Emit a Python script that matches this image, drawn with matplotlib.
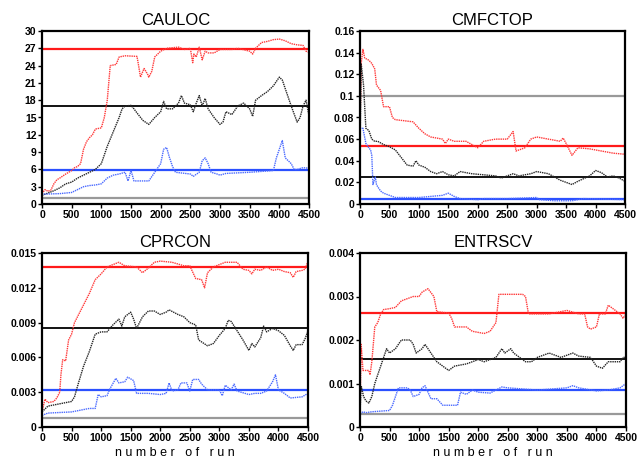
import matplotlib
matplotlib.use('Agg')
import matplotlib.pyplot as plt
import numpy as np

# ---- CAULOC ----
cauloc_ref = {'gray': 1.0, 'red': 26.8, 'black': 17.0, 'blue': 5.9}
cauloc_red_x = [0, 50, 100, 150, 200, 250, 300, 400, 450, 500, 550, 600, 650, 700, 750, 800, 850, 900, 1000, 1050,
                1100, 1150, 1250, 1300, 1400, 1600, 1620, 1660, 1720, 1780, 1800, 1850, 1900, 2000, 2100, 2300, 2400,
                2500, 2540, 2560, 2600, 2650, 2700, 2750, 2800, 2900, 3000, 3200, 3300, 3500, 3550, 3600, 3700, 3800,
                3900, 4000, 4100, 4200, 4300, 4400, 4450, 4500]
cauloc_red_y = [1.8, 2.5, 2.2, 2.4, 3.5, 4.2, 4.5, 5.2, 5.5, 5.8, 6.3, 6.5, 7.0, 9.5, 10.8, 11.5, 12.0, 13.0, 13.2, 15,
                18, 24, 24.2, 25.5, 25.7, 25.6, 24.5, 22, 23.5, 22.5, 22, 23, 25.5, 26.5, 27, 27.2, 26.8,
                27, 24.5, 26, 25.5, 27.2, 25, 26.5, 26.2, 26.2, 26.8, 26.8, 27, 26.5, 26, 27, 28, 28.2,
                28.5, 28.6, 28.3, 27.8, 27.6, 27.5, 26.5, 26.3]
cauloc_black_x = [0, 200, 300, 400, 500, 600, 700, 800, 900, 1000, 1050, 1100, 1200, 1300, 1350, 1400, 1500, 1550,
                  1600, 1700, 1800, 1900, 2000, 2050, 2100, 2200, 2300, 2350, 2400, 2500, 2550, 2600, 2650, 2700,
                  2750, 2800, 2900, 3000, 3050, 3100, 3200, 3300, 3400, 3500, 3550, 3600, 3700, 3800, 3900, 4000,
                  4050, 4100, 4200, 4300, 4350, 4400, 4450, 4500]
cauloc_black_y = [1.5, 2.3, 2.8, 3.5, 3.8, 4.5, 5, 5.5, 6, 7, 8.5, 10, 12.5, 15, 16.5, 17, 17.1, 16.5,
                  15.8, 14.5, 13.8, 15, 16, 17.8, 16.5, 16.5, 17.5, 18.8, 17.5, 17.2, 16, 17.5, 18.8, 17,
                  18.3, 16.5, 15, 13.8, 14.2, 16, 15.5, 17, 17.5, 16.5, 15.2, 18, 18.8, 19.5, 20.5, 22,
                  21.5, 20, 17, 14.2, 15, 17, 18, 15.3]
cauloc_blue_x = [0, 300, 500, 600, 700, 800, 900, 1000, 1100, 1200, 1300, 1400, 1450, 1500, 1550, 1800, 1900, 2000,
                 2050, 2100, 2150, 2200, 2250, 2500, 2550, 2650, 2700, 2750, 2800, 2850, 2950, 3000, 3100, 3500,
                 3900, 3950, 4000, 4050, 4100, 4200, 4250, 4300, 4400, 4500]
cauloc_blue_y = [1.7, 1.8, 2, 2.5, 3, 3.2, 3.3, 3.5, 4.5, 5, 5.2, 5.5, 4, 5.8, 4, 4, 5.5, 7,
                 9.5, 9.8, 8, 6.5, 5.5, 5.2, 4.8, 5.5, 7.5, 8, 7, 5.5, 5.2, 5.0, 5.3, 5.5,
                 5.8, 8, 9.5, 11, 8, 7, 6, 6, 6.3, 6.2]

# ---- CMFCTOP ----
cmfctop_ref = {'gray': 0.1, 'red': 0.0535, 'black': 0.025, 'blue': 0.005}
cmfctop_red_x = [0, 20, 50, 80, 150, 200, 250, 280, 350, 400, 450, 500, 550, 600, 900, 1000, 1100, 1200, 1400, 1450,
                 1500, 1600, 1800, 1900, 2000, 2100, 2300, 2500, 2600, 2650, 2800, 2900, 3000, 3200, 3400, 3450,
                 3500, 3600, 3700, 3900, 4000, 4200, 4300, 4500]
cmfctop_red_y = [0.07, 0.13, 0.143, 0.135, 0.133, 0.13, 0.125, 0.11, 0.105, 0.09, 0.09, 0.09, 0.08, 0.078, 0.076,
                 0.07, 0.065, 0.062, 0.06, 0.056, 0.06, 0.058, 0.058, 0.055, 0.052, 0.058, 0.06, 0.06, 0.067,
                 0.049, 0.052, 0.06, 0.062, 0.06, 0.058, 0.061, 0.056, 0.045, 0.052, 0.051, 0.05, 0.048, 0.047,
                 0.046]
cmfctop_black_x = [0, 20, 60, 100, 150, 200, 250, 300, 400, 500, 600, 700, 800, 900, 950, 1000, 1100, 1200, 1300,
                   1400, 1500, 1600, 1700, 1900, 2100, 2300, 2400, 2600, 2700, 2900, 3000, 3200, 3400, 3500, 3600,
                   3700, 3900, 4000, 4100, 4200, 4300, 4400, 4500]
cmfctop_black_y = [0.05, 0.13, 0.11, 0.07, 0.068, 0.06, 0.058, 0.058, 0.055, 0.053, 0.05, 0.043, 0.036, 0.035, 0.04,
                   0.036, 0.034, 0.03, 0.028, 0.03, 0.027, 0.026, 0.03, 0.028, 0.027, 0.026, 0.024, 0.028, 0.026,
                   0.028, 0.03, 0.028, 0.022, 0.02, 0.018, 0.021, 0.026, 0.031, 0.029, 0.025, 0.026, 0.024, 0.021]
cmfctop_blue_x = [0, 50, 100, 150, 180, 200, 220, 260, 280, 300, 350, 400, 500, 600, 1000, 1400, 1500, 1600, 1700,
                  2000, 2100, 2500, 3000, 3050, 3300, 3600, 3800, 4500]
cmfctop_blue_y = [0.07, 0.07, 0.056, 0.052, 0.05, 0.045, 0.018, 0.025, 0.018, 0.016, 0.012, 0.01, 0.008, 0.006,
                  0.006, 0.008, 0.01, 0.007, 0.005, 0.004, 0.005, 0.005, 0.006, 0.004, 0.003, 0.003, 0.005, 0.004]

# ---- CPRCON ----
cprcon_ref = {'gray': 0.0008, 'red': 0.0138, 'black': 0.0085, 'blue': 0.0032}
cprcon_red_x = [0, 50, 100, 200, 250, 300, 320, 350, 400, 450, 500, 550, 600, 700, 800, 900, 1000, 1100, 1200, 1300,
                1400, 1600, 1700, 1800, 1900, 2000, 2200, 2400, 2500, 2600, 2700, 2750, 2800, 2900, 3000, 3100,
                3300, 3400, 3500, 3550, 3600, 3700, 3800, 3900, 4000, 4100, 4200, 4250, 4300, 4400, 4450, 4500]
cprcon_red_y = [0.0013, 0.0024, 0.0021, 0.0022, 0.0025, 0.003, 0.0045, 0.0058, 0.0057, 0.0075, 0.008, 0.009, 0.0095,
                0.0105, 0.0115, 0.0127, 0.0132, 0.0138, 0.014, 0.0142, 0.0139, 0.0138, 0.0133, 0.0137, 0.0142,
                0.0143, 0.0142, 0.0139, 0.0139, 0.0128, 0.0127, 0.012, 0.0133, 0.0138, 0.014, 0.0142, 0.0142,
                0.0136, 0.0135, 0.0132, 0.0136, 0.0135, 0.0138, 0.0135, 0.0136, 0.0134, 0.0133, 0.0129, 0.0134,
                0.0135, 0.0136, 0.0143]
cprcon_black_x = [0, 100, 300, 500, 550, 600, 700, 800, 900, 1000, 1100, 1200, 1300, 1350, 1400, 1500, 1550, 1600,
                  1700, 1800, 1900, 2000, 2100, 2150, 2300, 2400, 2500, 2600, 2650, 2800, 2900, 3000, 3100, 3150,
                  3200, 3300, 3400, 3500, 3550, 3600, 3700, 3750, 3800, 3900, 4000, 4100, 4200, 4250, 4300, 4400,
                  4450, 4500]
cprcon_black_y = [0.0013, 0.0018, 0.002, 0.0022, 0.0026, 0.0035, 0.0052, 0.0065, 0.008, 0.0082, 0.0082, 0.0088,
                  0.0093, 0.0087, 0.0095, 0.0099, 0.0093, 0.0085, 0.0095, 0.01, 0.01, 0.0097, 0.0099, 0.0101,
                  0.0097, 0.0095, 0.009, 0.0088, 0.0075, 0.007, 0.0072, 0.0079, 0.0085, 0.0092, 0.0091, 0.0083,
                  0.0075, 0.0066, 0.0072, 0.0069, 0.0077, 0.0087, 0.0082, 0.0085, 0.0083, 0.0079, 0.007, 0.0066,
                  0.0071, 0.0071, 0.0076, 0.0083]
cprcon_blue_x = [0, 100, 500, 700, 800, 900, 950, 1000, 1100, 1150, 1250, 1300, 1400, 1450, 1550, 1600, 1800, 2000,
                 2100, 2150, 2200, 2300, 2350, 2450, 2500, 2550, 2650, 2700, 2800, 3000, 3050, 3100, 3200, 3250,
                 3300, 3500, 3600, 3700, 3800, 3900, 3950, 4000, 4100, 4200, 4400, 4500]
cprcon_blue_y = [0.0010, 0.0012, 0.0013, 0.0015, 0.0016, 0.0016, 0.0028, 0.0026, 0.0027, 0.0033, 0.0042, 0.0038,
                 0.0039, 0.0043, 0.0040, 0.0029, 0.0029, 0.0028, 0.0029, 0.0038, 0.0031, 0.0032, 0.0038, 0.0038,
                 0.0031, 0.0041, 0.0041, 0.0037, 0.0032, 0.0032, 0.0027, 0.0036, 0.0032, 0.0037, 0.0031, 0.0028,
                 0.0029, 0.0029, 0.0031, 0.0039, 0.0045, 0.0032, 0.0029, 0.0025, 0.0026, 0.0029]

# ---- ENTRSCV ----
entrscv_ref = {'gray': 0.0003, 'red': 0.00262, 'black': 0.00157, 'blue': 0.00085}
entrscv_red_x = [0, 20, 50, 150, 170, 200, 250, 300, 350, 400, 500, 600, 700, 900, 1000, 1050, 1150, 1250, 1300,
                 1500, 1550, 1600, 1800, 1900, 2100, 2200, 2300, 2350, 2500, 2750, 2800, 2850, 3000, 3200, 3500,
                 3700, 3800, 3850, 3900, 4000, 4050, 4150, 4200, 4300, 4400, 4450, 4500]
entrscv_red_y = [0.0003, 0.0019, 0.0013, 0.0013, 0.0012, 0.0015, 0.0023, 0.0024, 0.0026, 0.0027, 0.00272, 0.00275,
                 0.0029, 0.003, 0.003, 0.0031, 0.00318, 0.003, 0.00265, 0.00262, 0.0025, 0.0023, 0.0023, 0.0022,
                 0.00215, 0.0022, 0.0024, 0.00305, 0.00305, 0.00305, 0.003, 0.0026, 0.0026, 0.0026, 0.00268,
                 0.0026, 0.0026, 0.0023, 0.00225, 0.0023, 0.0026, 0.0026, 0.0028, 0.0027, 0.0026, 0.0025, 0.0026]
entrscv_black_x = [0, 20, 60, 100, 150, 200, 250, 300, 400, 450, 500, 600, 700, 800, 850, 900, 950, 1050, 1100,
                   1200, 1300, 1400, 1500, 1600, 1800, 1900, 2000, 2100, 2300, 2400, 2450, 2550, 2600, 2700, 2800,
                   2900, 3000, 3200, 3400, 3600, 3700, 3900, 4000, 4100, 4200, 4300, 4400, 4450, 4500]
entrscv_black_y = [0.0003, 0.00095, 0.0007, 0.0006, 0.00055, 0.0007, 0.001, 0.0012, 0.0016, 0.0018, 0.0017, 0.0018,
                   0.002, 0.002, 0.002, 0.0019, 0.0017, 0.0018, 0.0019, 0.0017, 0.0015, 0.0014, 0.0013, 0.0014,
                   0.00145, 0.0015, 0.00155, 0.0015, 0.0016, 0.0018, 0.0017, 0.0018, 0.0017, 0.0016, 0.0015, 0.0015,
                   0.0016, 0.0017, 0.0016, 0.0017, 0.00163, 0.0016, 0.0014, 0.00135, 0.0015, 0.0015, 0.0015,
                   0.0016, 0.0016]
entrscv_blue_x = [0, 50, 100, 200, 500, 550, 650, 800, 850, 900, 1000, 1050, 1100, 1200, 1300, 1400, 1500, 1650,
                  1700, 1800, 1900, 2000, 2200, 2400, 2500, 2700, 3000, 3500, 3600, 3700, 4000, 4200, 4400, 4500]
entrscv_blue_y = [0.0003, 0.00035, 0.00033, 0.00035, 0.00038, 0.0005, 0.0009, 0.0009, 0.00085, 0.0007, 0.00075,
                  0.0009, 0.00095, 0.00065, 0.00065, 0.0005, 0.0005, 0.0005, 0.0008, 0.00075, 0.00085, 0.0008,
                  0.00078, 0.00092, 0.0009, 0.00088, 0.00085, 0.0009, 0.00095, 0.0009, 0.00083, 0.00085, 0.0009,
                  0.001]

x_ticks = np.arange(0, 4501, 500)

panels = [
    ('CAULOC', cauloc_ref, (cauloc_red_x, cauloc_red_y), (cauloc_black_x, cauloc_black_y),
     (cauloc_blue_x, cauloc_blue_y), np.arange(0, 31, 3), [str(v) for v in range(0, 31, 3)]),
    ('CMFCTOP', cmfctop_ref, (cmfctop_red_x, cmfctop_red_y), (cmfctop_black_x, cmfctop_black_y),
     (cmfctop_blue_x, cmfctop_blue_y), np.linspace(0, 0.16, 9),
     ['0', '0.02', '0.04', '0.06', '0.08', '0.1', '0.12', '0.14', '0.16']),
    ('CPRCON', cprcon_ref, (cprcon_red_x, cprcon_red_y), (cprcon_black_x, cprcon_black_y),
     (cprcon_blue_x, cprcon_blue_y), np.linspace(0, 0.015, 6),
     ['0', '0.003', '0.006', '0.009', '0.012', '0.015']),
    ('ENTRSCV', entrscv_ref, (entrscv_red_x, entrscv_red_y), (entrscv_black_x, entrscv_black_y),
     (entrscv_blue_x, entrscv_blue_y), np.linspace(0, 0.004, 5),
     ['0', '0.001', '0.002', '0.003', '0.004']),
]

# axes boxes in pixels (left, top, right, bottom)
W, H = 637, 458
boxes = [(42, 31, 309, 204), (360, 31, 625, 204), (42, 253, 308, 427), (360, 253, 626, 427)]

fig = plt.figure(figsize=(W / 100, H / 100), dpi=100)
plt.rcParams['font.family'] = ['Liberation Sans', 'DejaVu Sans']

for i, (name, ref, red, black, blue, yt, ytl) in enumerate(panels):
    l, t, r, b = boxes[i]
    ax = fig.add_axes([l / W, 1 - b / H, (r - l) / W, (b - t) / H])
    ax.axhline(ref['gray'], color='#999999', lw=1.6)
    ax.axhline(ref['red'], color='#ff1a1a', lw=1.6)
    ax.axhline(ref['black'], color='black', lw=1.3)
    ax.axhline(ref['blue'], color='#2b50ff', lw=1.6)
    ax.plot(red[0], red[1], color='#ff3838', lw=1.0, ls=(0, (1, 0.6)))
    ax.plot(black[0], black[1], color='#262626', lw=1.0, ls=(0, (1, 0.6)))
    ax.plot(blue[0], blue[1], color='#4a6aff', lw=1.0, ls=(0, (1, 0.6)))
    ax.set_xlim(0, 4500)
    ax.set_ylim(yt[0], yt[-1])
    ax.set_xticks(x_ticks)
    ax.set_xticklabels([str(v) for v in x_ticks], fontsize=7.5, fontweight='bold')
    ax.set_yticks(yt)
    ax.set_yticklabels(ytl, fontsize=7.5, fontweight='bold')
    ax.tick_params(direction='out', length=3, width=1, pad=1)
    for s in ax.spines.values():
        s.set_linewidth(1.6)
    ax.set_title(name, fontsize=12, pad=4)
    if i >= 2:
        ax.set_xlabel('n u m b e r   o f   r u n', fontsize=9, labelpad=3)

fig.savefig('out.png', dpi=100)
